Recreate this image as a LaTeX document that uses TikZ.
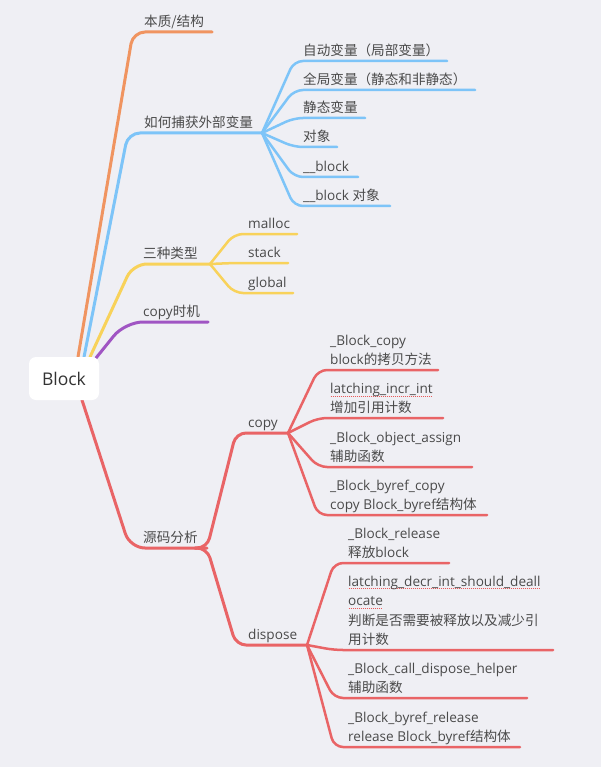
\documentclass[tikz,border=0pt]{standalone}
\usepackage{fontspec}
\setmainfont{Open Sans}
\newfontfamily\cjkf{Noto Sans CJK SC}
\newcommand\zh[1]{{\cjkf #1}}
\definecolor{bg}{RGB}{239,239,244}
\definecolor{corange}{RGB}{240,148,96}
\definecolor{cblue}{RGB}{125,196,248}
\definecolor{cyellow}{RGB}{248,210,90}
\definecolor{cpurple}{RGB}{160,85,195}
\definecolor{cred}{RGB}{233,100,102}
\definecolor{txt}{RGB}{74,74,74}
\definecolor{squig}{RGB}{232,90,90}
\newcommand\sqg[1]{\setbox0=\hbox{#1}\rlap{\color{squig}\raisebox{-3pt}{\hbox to \wd0{\leaders\hbox to 2pt{\hss\rule{1.1pt}{0.8pt}\hss}\hfil}}}\box0}
\begin{document}
\begin{tikzpicture}[x=1pt,y=-1pt,
  br/.style={line width=3pt, rounded corners=12pt, line cap=round, line join=round},
  sb/.style={line width=2.5pt, rounded corners=9pt, line cap=round, line join=round},
  lbl/.style={anchor=south west, inner sep=0pt, align=left, text=txt, font=\fontsize{13.6}{19.6}\selectfont},
  rootbox/.style={fill=white, rounded corners=7pt, minimum width=70pt, minimum height=43pt, inner sep=0pt, text=black!80, font=\fontsize{17.5}{20}\selectfont}
]
\fill[bg] (0,0) rectangle (601,767);
\useasboundingbox (0,0) rectangle (601,767);

% connectors first (below root)
\coordinate (so) at (78,357);
\coordinate (sbl) at (84,357);
\coordinate (sy) at (90,357);
\coordinate (sp) at (96,358);
\coordinate (sr) at (82,400);
\coordinate (e1) at (212,32);
\coordinate (j2) at (262,133);
\coordinate (j3) at (210,264);
\coordinate (e4) at (208,322);
\coordinate (j5) at (207,548);
\coordinate (jc) at (288,433);
\coordinate (jd) at (307,645);

\draw[br, corange] (so) -- (133,32) -- (e1);
\draw[br, cblue] (sbl) -- (128,133) -- (j2);
\draw[br, cyellow, rounded corners=14pt] (sy) -- (133,264) -- (j3);
\draw[br, cpurple, rounded corners=18pt] (sp) -- (125,322) -- (e4);
\draw[br, cred, rounded corners=15pt] (sr) -- (130,548) -- (j5);

% blue children
\draw[sb, cblue] (j2) -- (294,61) -- (447,61);
\draw[sb, cblue] (j2) -- (294,90) -- (475,90);
\draw[sb, cblue] (j2) -- (294,118) -- (365,118);
\draw[sb, cblue] (j2) -- (294,147) -- (337,147);
\draw[sb, cblue] (j2) -- (294,177) -- (358,177);
\draw[sb, cblue] (j2) -- (294,206) -- (390,206);

% yellow children
\draw[sb, cyellow] (j3) -- (234,234) -- (297,234);
\draw[sb, cyellow] (j3) -- (234,263) -- (288,263);
\draw[sb, cyellow] (j3) -- (234,293) -- (293,293);

% red level 2
\draw[br, cred, rounded corners=10pt] (195,548) -- (j5) -- (236,433) -- (jc);
\draw[br, cred, rounded corners=10pt] (195,548) -- (j5) -- (236,645) -- (jd);

% copy children
\draw[sb, cred] (jc) -- (318,370) -- (438,370);
\draw[sb, cred] (jc) -- (318,418) -- (443,418);
\draw[sb, cred] (jc) -- (318,467) -- (472,467);
\draw[sb, cred] (jc) -- (318,515) -- (487,515);

% dispose children
\draw[sb, cred] (jd) -- (334,563) -- (449,563);
\draw[sb, cred] (jd) -- (334,650) -- (553,650);
\draw[sb, cred] (jd) -- (334,698) -- (527,698);
\draw[sb, cred] (jd) -- (334,747) -- (520,747);

% root
\node[rootbox] (root) at (64,378.5) {Block};

% level 1 labels
\node[lbl] (n1) at (144,33) {\zh{本质/结构}\strut};
\node[lbl] (n2) at (144,134) {\zh{如何捕获外部变量}\strut};
\node[lbl] (n3) at (143,265) {\zh{三种类型}\strut};
\node[lbl] (n4) at (143,323) {copy\zh{时机}\strut};
\node[lbl] (n5) at (143,549) {\zh{源码分析}\strut};

% blue labels
\node[lbl] (b1) at (303,62) {\zh{自动变量（局部变量）}\strut};
\node[lbl] (b2) at (303,91) {\zh{全局变量（静态和非静态）}\strut};
\node[lbl] (b3) at (303,119) {\zh{静态变量}\strut};
\node[lbl] (b4) at (303,148) {\zh{对象}\strut};
\node[lbl] (b5) at (303,178) {\_\_block\strut};
\node[lbl] (b6) at (303,207) {\_\_block \zh{对象}\strut};

% yellow labels
\node[lbl] (y1) at (248,235) {malloc\strut};
\node[lbl] (y2) at (248,264) {stack\strut};
\node[lbl] (y3) at (248,294) {global\strut};

% red labels
\node[lbl] (c0) at (248,434) {copy\strut};
\node[lbl] (d0) at (248,646) {dispose\strut};

\node[lbl] (c1) at (330,371) {\_Block\_copy\\block\zh{的拷贝方法}\strut};
\node[lbl] (c2) at (330,419) {\sqg{latching\_incr\_int}\\\zh{增加引用计数}\strut};
\node[lbl] (c3) at (330,468) {\_Block\_object\_assign\\\zh{辅助函数}\strut};
\node[lbl] (c4) at (330,516) {\_Block\_byref\_copy\\copy Block\_byref\zh{结构体}\strut};

\node[lbl] (d1) at (348,564) {\_Block\_release\\\zh{释放}block\strut};
\node[lbl] (d2) at (348,651) {\sqg{latching\_decr\_int\_should\_deall}\\\sqg{ocate}\\\zh{判断是否需要被释放以及减少引}\\\zh{用计数}\strut};
\node[lbl] (d3) at (348,699) {\_Block\_call\_dispose\_helper\\\zh{辅助函数}\strut};
\node[lbl] (d4) at (348,748) {\_Block\_byref\_release\\release Block\_byref\zh{结构体}\strut};
\end{tikzpicture}
\end{document}
